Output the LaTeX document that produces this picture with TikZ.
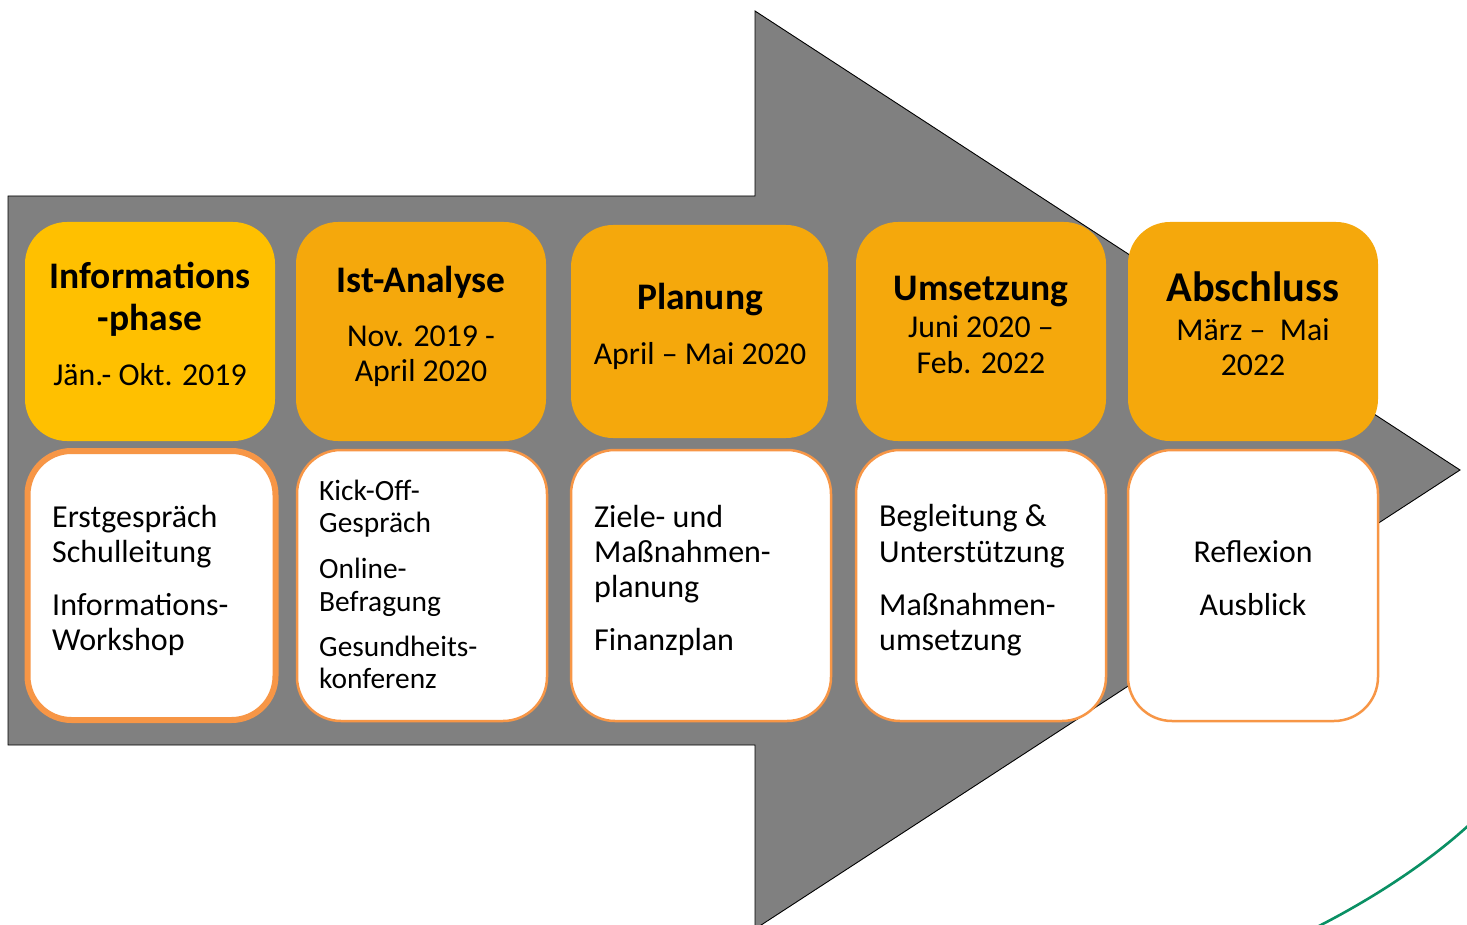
\documentclass[tikz,border=0pt]{standalone}
\usepackage{fontspec}
\setmainfont{Carlito}
\definecolor{arrowgray}{HTML}{808080}
\definecolor{goldbox}{HTML}{FFC000}
\definecolor{orangebox}{HTML}{F5A80C}
\definecolor{boxborder}{HTML}{F79646}
\definecolor{curvegreen}{HTML}{0A9064}
\tikzset{
  topbox/.style={fill=orangebox, draw=none, rounded corners=42pt, minimum width=250pt, minimum height=219pt, inner sep=0pt, outer sep=0pt},
  botbox/.style={fill=white, draw=boxborder, line width=2.5pt, rounded corners=44pt, minimum width=250pt, minimum height=271pt, inner sep=0pt, outer sep=0pt},
  ttl/.style={font=\bfseries\fontsize{37.5}{44}\selectfont, anchor=mid, inner sep=0pt},
  dat/.style={font=\fontsize{31.8}{38}\selectfont, anchor=mid, inner sep=0pt},
  bod/.style={font=\fontsize{32}{38}\selectfont, anchor=mid west, inner sep=0pt},
  bodsm/.style={font=\fontsize{29.4}{35}\selectfont, anchor=mid west, inner sep=0pt},
}
\begin{document}
\begin{tikzpicture}[x=1pt,y=-1pt]
\useasboundingbox (0,0) rectangle (1467,925);
% big arrow
\coordinate (a1) at (8,196);
\coordinate (a2) at (755,196);
\coordinate (a3) at (755,11);
\coordinate (tip) at (1460,470);
\coordinate (a5) at (755,929);
\coordinate (a6) at (755,745);
\coordinate (a7) at (8,745);
\draw[fill=arrowgray, draw=black, line width=0.9pt] (a1) -- (a2) -- (a3) -- (tip) -- (a5) -- (a6) -- (a7) -- cycle;
% green curve
\coordinate (g1) at (1317,927);
\coordinate (g2) at (1469,825);
\draw[curvegreen, line width=2.6pt] (g1) .. controls (1370,900) and (1425,865) .. (g2);
% top boxes
\node[topbox, fill=goldbox] (t1) at (150,331.5) {};
\node[topbox] (t2) at (421,331.5) {};
\node[topbox, minimum width=257pt, minimum height=213pt] (t3) at (699.5,331.5) {};
\node[topbox] (t4) at (981,331.5) {};
\node[topbox] (t5) at (1253,331.5) {};
% bottom boxes
\node[botbox, line width=6pt, minimum width=248pt, minimum height=269pt] (b1) at (151.5,585.5) {};
\node[botbox] (b2) at (422,585.5) {};
\node[botbox, minimum width=260pt] (b3) at (701,585.5) {};
\node[botbox] (b4) at (981,585.5) {};
\node[botbox] (b5) at (1253,585.5) {};
% texts box 1
\node[ttl] (t1a) at (150,286) {Informations};
\node[ttl] (t1b) at (150,328) {-phase};
\node[dat] (t1c) at (150,383) {Jän.- Okt. 2019};
% box 2
\node[ttl] (t2a) at (421,290) {Ist-Analyse};
\node[dat] (t2b) at (421,344) {Nov. 2019 -};
\node[dat] (t2c) at (421,379) {April 2020};
% box 3
\node[ttl] (t3a) at (700,307) {Planung};
\node[dat] (t3b) at (700,362) {April – Mai 2020};
% box 4
\node[ttl] (t4a) at (981,298) {Umsetzung};
\node[dat] (t4b) at (981,335) {Juni 2020 –};
\node[dat] (t4c) at (981,371) {Feb. 2022};
% box 5
\node[ttl, font=\bfseries\fontsize{42.4}{50}\selectfont] (t5a) at (1253,299) {Abschluss};
\node[dat] (t5b) at (1253,338) {März –\ \ Mai};
\node[dat] (t5c) at (1253,373) {2022};
% bottom texts
\node[bod] (b1a) at (52,525) {Erstgespräch};
\node[bod] (b1b) at (52,560) {Schulleitung};
\node[bod] (b1c) at (52,613) {Informations-};
\node[bod] (b1d) at (52,648) {Workshop};
\node[bodsm] (b2a) at (319,498) {Kick-Off-};
\node[bodsm] (b2b) at (319,530) {Gespräch};
\node[bodsm] (b2c) at (319,576) {Online-};
\node[bodsm] (b2d) at (319,609) {Befragung};
\node[bodsm] (b2e) at (319,654) {Gesundheits-};
\node[bodsm] (b2f) at (319,686) {konferenz};
\node[bod] (b3a) at (594,525) {Ziele- und};
\node[bod] (b3b) at (594,560) {Maßnahmen-};
\node[bod] (b3c) at (594,595) {planung};
\node[bod] (b3d) at (594,648) {Finanzplan};
\node[bod] (b4a) at (879,524) {Begleitung \&};
\node[bod] (b4b) at (879,560) {Unterstützung};
\node[bod] (b4c) at (879,613) {Maßnahmen-};
\node[bod] (b4d) at (879,648) {umsetzung};
\node[dat] (b5a) at (1253,560) {Reflexion};
\node[dat] (b5b) at (1253,613) {Ausblick};
\end{tikzpicture}
\end{document}
